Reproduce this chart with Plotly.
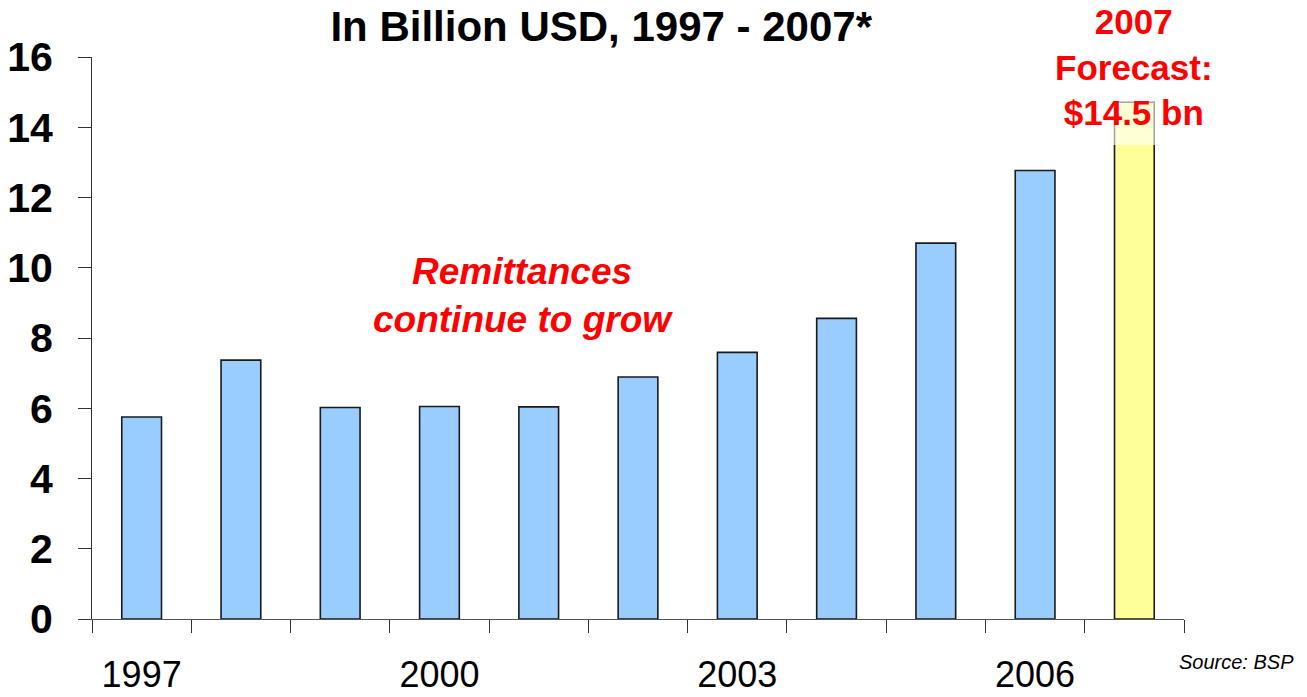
import plotly.graph_objects as go

years = [1997, 1998, 1999, 2000, 2001, 2002, 2003, 2004, 2005, 2006, 2007]
remittances = [5.75, 7.37, 6.02, 6.05, 6.04, 6.89, 7.59, 8.56, 10.70, 12.77, 14.71]
bar_colors = ["#99CCFF"] * 10 + ["#FFFF99"]
label_years = [1997, 2000, 2003, 2006]
y_ticks = [0, 2, 4, 6, 8, 10, 12, 14, 16]

FONT = "Liberation Sans, Arial, sans-serif"

fig = go.Figure()
fig.add_trace(go.Bar(
    x=years, y=remittances,
    marker=dict(color=bar_colors, line=dict(color="#1a1a1a", width=1.6)),
    width=0.4,
    showlegend=False,
))

fig.update_layout(
    width=1307, height=697,
    margin=dict(l=92, r=123, t=57, b=78),
    paper_bgcolor="white", plot_bgcolor="white",
    font=dict(family=FONT, color="black"),
    title=dict(text="<b>In Billion USD, 1997 - 2007*</b>",
               font=dict(size=42, family=FONT, color="black"),
               x=0.46, xanchor="center", y=0.962, yanchor="middle"),
    xaxis=dict(
        range=[1996.5, 2007.5], automargin=False,
        tickmode="array", tickvals=label_years, ticktext=[str(y) for y in label_years],
        ticks="outside", ticklen=24, tickcolor="rgba(0,0,0,0)",
        tickfont=dict(size=36, family=FONT, color="black"),
        showline=True, linecolor="#555555", linewidth=1,
        showgrid=False, zeroline=False,
        minor=dict(tickmode="linear", tick0=1996.5, dtick=1, ticks="outside",
                   ticklen=13, tickcolor="#333333", tickwidth=1, showgrid=False),
    ),
    yaxis=dict(
        range=[0, 16], tickmode="array", tickvals=y_ticks, automargin=False,
        ticks="outside", ticklen=13, tickcolor="#333333",
        tickfont=dict(size=41, family=FONT, color="black", weight="bold"),
        ticklabelstandoff=17,
        showline=True, linecolor="#333333", linewidth=1,
        showgrid=False, zeroline=False,
    ),
)

# semi-transparent text box overlapping the forecast bar
fig.add_shape(type="rect", xref="paper", yref="paper",
              x0=(1045 - 92) / 1092, x1=(1220 - 92) / 1092,
              y0=(619 - 145) / 562, y1=1.10,
              fillcolor="rgba(255,255,255,0.6)", line=dict(width=0), layer="above")

fig.add_annotation(x=2000.84, y=9.22, xref="x", yref="y",
                   text="<b><i>Remittances<br>continue to grow</i></b>",
                   showarrow=False, font=dict(size=37, color="#FF0000", family=FONT),
                   align="center", xanchor="center", yanchor="middle")

fig.add_annotation(x=2007, y=15.72, xref="x", yref="y",
                   text="<b>2007<br>Forecast:<br>$14.5 bn</b>",
                   showarrow=False, font=dict(size=35, color="#FF0000", family=FONT),
                   align="center", xanchor="center", yanchor="middle")

fig.add_annotation(x=(1296 - 92) / 1092, y=(619 - 662) / 562, xref="paper", yref="paper",
                   text="<i>Source: BSP</i>", showarrow=False,
                   font=dict(size=20, color="black", family=FONT),
                   xanchor="right", yanchor="middle")

fig.write_html("out.html")
